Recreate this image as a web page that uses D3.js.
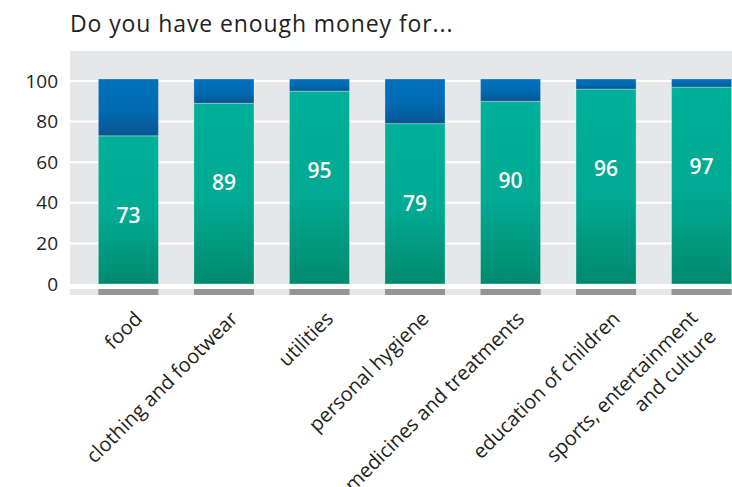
<!DOCTYPE html>
<html>
<head>
<meta charset="utf-8">
<script src="https://cdn.jsdelivr.net/npm/d3@7/dist/d3.min.js"></script>
<style>
  html, body { margin: 0; padding: 0; background: #fff; }
  svg { display: block; }
</style>
</head>
<body>
<svg id="chart" width="732" height="487"></svg>
<script>
// Share of respondents who can afford each expense
const categories = [
  ["food"],
  ["clothing and footwear"],
  ["utilities"],
  ["personal hygiene"],
  ["medicines and treatments"],
  ["education of children"],
  ["sports, entertainment", "and culture"]
];
const enough    = [73, 89, 95, 79, 90, 96, 97];
const notEnough = [28, 12, 6, 22, 11, 5, 4];
const yTicks    = [0, 20, 40, 60, 80, 100];
const title     = "Do you have enough money for...";

const svg = d3.select("#chart");

const plot = { left: 70, top: 51, bottom: 284, right: 760 };

const x = d3.scaleBand()
  .domain(d3.range(categories.length))
  .range([plot.left, plot.right])
  .paddingInner(0.371)
  .paddingOuter(0.297);

const y = d3.scaleLinear().domain([0, 100]).range([284, 81]);

// gradients
const defs = svg.append("defs");
const gGreen = defs.append("linearGradient").attr("id", "gGreen")
  .attr("x1", 0).attr("y1", 0).attr("x2", 0).attr("y2", 1);
gGreen.append("stop").attr("offset", "0%").attr("stop-color", "#00B09A");
gGreen.append("stop").attr("offset", "55%").attr("stop-color", "#00A992");
gGreen.append("stop").attr("offset", "100%").attr("stop-color", "#008A6F");
const gBlue = defs.append("linearGradient").attr("id", "gBlue")
  .attr("x1", 0).attr("y1", 0).attr("x2", 0).attr("y2", 1);
gBlue.append("stop").attr("offset", "0%").attr("stop-color", "#0071BC");
gBlue.append("stop").attr("offset", "55%").attr("stop-color", "#006AB2");
gBlue.append("stop").attr("offset", "100%").attr("stop-color", "#0A5590");

const mainFont = "'Open Sans', sans-serif";

// title
svg.append("text")
  .attr("x", 70).attr("y", 32)
  .attr("font-family", mainFont)
  .attr("font-size", 23)
  .attr("letter-spacing", 0.9)
  .attr("fill", "#231F20")
  .text(title);

// plot background
svg.append("rect")
  .attr("x", plot.left).attr("y", plot.top)
  .attr("width", plot.right - plot.left).attr("height", plot.bottom - plot.top)
  .attr("fill", "#E6E7E9");

// gridlines
svg.append("g").selectAll("line")
  .data(yTicks.filter(d => d > 0))
  .join("line")
  .attr("x1", plot.left).attr("x2", plot.right)
  .attr("y1", d => y(d)).attr("y2", d => y(d))
  .attr("stroke", "#fff").attr("stroke-width", 2);

// y axis labels
const yAxis = d3.axisLeft(y).tickValues(yTicks).tickSize(0).tickPadding(0);
const ya = svg.append("g").attr("transform", "translate(58,0)").call(yAxis);
ya.select(".domain").remove();
ya.selectAll("text")
  .attr("font-family", mainFont)
  .attr("font-size", 19)
  .attr("fill", "#231F20");

// strip under the zero line
svg.append("rect")
  .attr("x", plot.left).attr("y", 289)
  .attr("width", plot.right - plot.left).attr("height", 6)
  .attr("fill", "#E6E7E9");
svg.append("g").selectAll("rect")
  .data(categories)
  .join("rect")
  .attr("x", (d, i) => x(i)).attr("y", 289)
  .attr("width", x.bandwidth()).attr("height", 6)
  .attr("fill", "#939598");

// stacked bars
const bars = svg.append("g");
bars.selectAll("rect.enough")
  .data(enough)
  .join("rect")
  .attr("class", "enough")
  .attr("x", (d, i) => x(i)).attr("width", x.bandwidth())
  .attr("y", d => y(d)).attr("height", d => y(0) - y(d))
  .attr("fill", "url(#gGreen)")
  .attr("stroke", "rgba(255,255,255,0.3)").attr("stroke-width", 1);
bars.selectAll("rect.not")
  .data(notEnough)
  .join("rect")
  .attr("class", "not")
  .attr("x", (d, i) => x(i)).attr("width", x.bandwidth())
  .attr("y", (d, i) => y(enough[i] + d)).attr("height", d => y(0) - y(d))
  .attr("fill", "url(#gBlue)")
  .attr("stroke", "rgba(255,255,255,0.3)").attr("stroke-width", 1);

// value labels
svg.append("g").selectAll("text")
  .data(enough)
  .join("text")
  .attr("x", (d, i) => x(i) + x.bandwidth() / 2)
  .attr("y", d => y(d) + 87)
  .attr("text-anchor", "middle")
  .attr("font-family", mainFont)
  .attr("font-weight", 600)
  .attr("font-size", 21)
  .attr("fill", "#fff")
  .text(d => d);

// category labels
const lineH = 26;
const xl = svg.append("g").selectAll("g")
  .data(categories)
  .join("g")
  .attr("transform", (d, i) => `translate(${x(i) + x.bandwidth() / 2 + 15},320) rotate(-45)`);
xl.each(function(lines) {
  const n = lines.length;
  d3.select(this).selectAll("text")
    .data(lines)
    .join("text")
    .attr("text-anchor", "end")
    .attr("x", n > 1 ? -12 : 0)
    .attr("y", (l, k) => (k - (n - 1) / 2) * lineH)
    .attr("font-family", "'Open Sans', sans-serif")
    .attr("font-size", 20)
    .attr("fill", "#231F20")
    .text(l => l);
});
</script>
</body>
</html>
